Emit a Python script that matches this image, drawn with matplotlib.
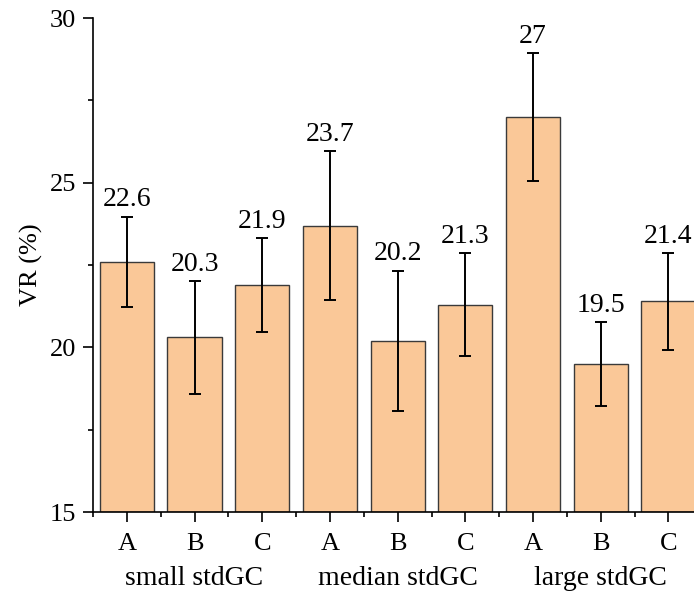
import matplotlib.pyplot as plt
from matplotlib.ticker import MultipleLocator, FixedLocator

plt.rcParams['font.family'] = ['Liberation Serif', 'DejaVu Serif']

# VR per subgroup, three stdGC groups
groups = ["small stdGC", "median stdGC", "large stdGC"]
subgroups = ["A", "B", "C"]
vr = [22.6, 20.3, 21.9, 23.7, 20.2, 21.3, 27, 19.5, 21.4]
vr_err = [1.37, 1.71, 1.42, 2.27, 2.13, 1.57, 1.94, 1.28, 1.47]

x = list(range(1, len(vr) + 1))
tick_labels = subgroups * len(groups)

fig = plt.figure(figsize=(6.94, 5.94), dpi=100)
ax = fig.add_axes([0.134, 0.138, 0.878, 0.8316])

ax.bar(x, [v - 15 for v in vr], bottom=15, width=0.8, color="#FAC898",
       edgecolor="#3a3a3a", linewidth=1.0, zorder=2)
ax.errorbar(x, vr, yerr=vr_err, fmt="none", ecolor="black", elinewidth=1.4,
            capsize=4, capthick=1.4, zorder=3)

for xi, v, e in zip(x, vr, vr_err):
    ax.annotate(f"{v:g}", (xi, v + e), xytext=(0, 3), textcoords="offset points",
                ha="center", va="bottom", fontsize=20)

ax.set_xlim(0.5, 9.5)
ax.set_ylim(15, 30)
ax.set_xticks(x)
ax.set_xticklabels(tick_labels)
ax.xaxis.set_minor_locator(FixedLocator([i + 0.5 for i in range(0, 10)]))
ax.yaxis.set_major_locator(MultipleLocator(5))
ax.yaxis.set_minor_locator(MultipleLocator(2.5))

ax.tick_params(axis="both", which="major", direction="out", length=7, width=1.2,
               labelsize=19)
ax.tick_params(axis="both", which="minor", direction="out", length=3.5, width=1.2)
ax.tick_params(axis="x", which="major", pad=8)
ax.tick_params(axis="y", which="major", pad=5)

for side in ("top", "right"):
    ax.spines[side].set_visible(False)
for side in ("left", "bottom"):
    ax.spines[side].set_linewidth(1.2)

ax.set_ylabel("VR (%)", fontsize=19, labelpad=5)

# group names under each block of A/B/C
for gi, name in enumerate(groups):
    ax.text(3 * gi + 2, -0.135, name, transform=ax.get_xaxis_transform(),
            ha="center", va="center", fontsize=20)

fig.savefig("out.png", dpi=100)
